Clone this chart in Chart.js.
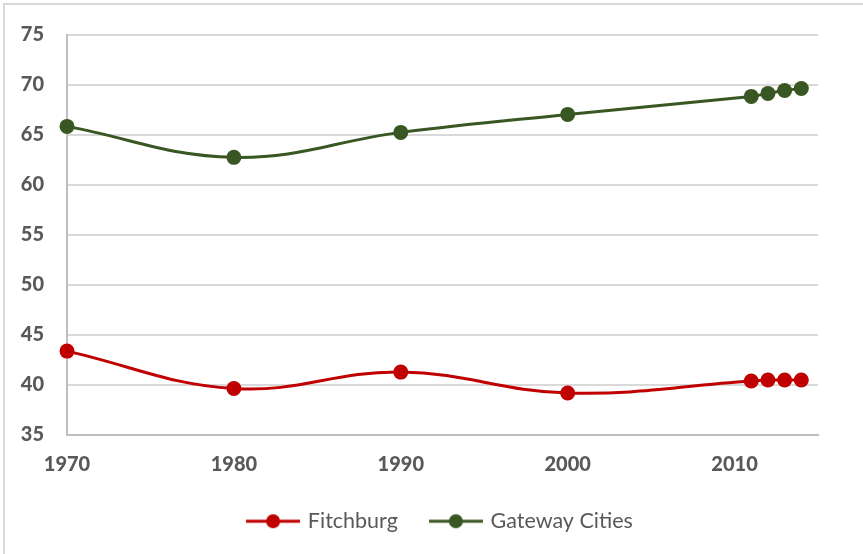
<!DOCTYPE html>
<html>
<head>
<meta charset="utf-8">
<script src="https://cdn.jsdelivr.net/npm/chart.js@4"></script>
<style>
    html, body { margin: 0; padding: 0; background: #fff; }
    #wrap { position: relative; width: 863px; height: 554px; }
    #frame {
        position: absolute; left: 3px; top: 3px; right: 0; bottom: 0;
        border-top: 2px solid #d9d9d9; border-left: 2px solid #d9d9d9;
        pointer-events: none;
    }
</style>
</head>
<body>
<div id="wrap">
    <canvas id="chart" width="863" height="554"></canvas>
    <div id="frame"></div>
</div>
<script>
// Data
const years = [1970, 1980, 1990, 2000, 2011, 2012, 2013, 2014];
const fitchburg = [43.35, 39.6, 41.25, 39.15, 40.35, 40.45, 40.45, 40.45];
const gateway = [65.85, 62.75, 65.25, 67.05, 68.85, 69.15, 69.45, 69.65];
const xTicks = [1970, 1980, 1990, 2000, 2010];

const FONT = 'Lato, "Open Sans", "Liberation Sans", sans-serif';
const TEXT = '#595959';
const RED = '#c00000';
const GREEN = '#385723';

function toPoints(values) {
    return years.map((y, i) => ({ x: y, y: values[i] }));
}

// legend marker: short line with a dot in the middle
function legendMarker(color) {
    const c = document.createElement('canvas');
    c.width = 54;
    c.height = 16;
    const g = c.getContext('2d');
    g.strokeStyle = color;
    g.lineWidth = 3;
    g.beginPath();
    g.moveTo(0, 8);
    g.lineTo(54, 8);
    g.stroke();
    g.fillStyle = color;
    g.beginPath();
    g.arc(27, 8, 7, 0, Math.PI * 2);
    g.fill();
    return c;
}

const markers = [legendMarker(RED), legendMarker(GREEN)];

// nudge the legend right so it centres on the whole chart, not the plot
const legendShift = {
    id: 'legendShift',
    afterLayout(chart) {
        chart.legend.left += 27;
        chart.legend.right += 27;
    }
};

const ctx = document.getElementById('chart').getContext('2d');
const chart = new Chart(ctx, {
    type: 'line',
    data: {
        datasets: [
            {
                label: 'Fitchburg',
                data: toPoints(fitchburg),
                borderColor: RED,
                backgroundColor: RED,
                borderWidth: 3,
                pointRadius: 7.5,
                pointBorderWidth: 0,
                tension: 0.4,
                clip: false
            },
            {
                label: 'Gateway Cities',
                data: toPoints(gateway),
                borderColor: GREEN,
                backgroundColor: GREEN,
                borderWidth: 3,
                pointRadius: 7.5,
                pointBorderWidth: 0,
                tension: 0.4,
                clip: false
            }
        ]
    },
    options: {
        responsive: false,
        animation: false,
        layout: {
            padding: { left: 10, top: 23, right: 45, bottom: 12 }
        },
        plugins: {
            tooltip: { enabled: false },
            legend: {
                display: true,
                position: 'bottom',
                labels: {
                    usePointStyle: true,
                    pointStyleWidth: 48,
                    boxHeight: 16,
                    color: TEXT,
                    font: { family: FONT, size: 21.5 },
                    padding: 34,
                    generateLabels: (chart) => chart.data.datasets.map((d, i) => ({
                        text: d.label,
                        fillStyle: d.backgroundColor,
                        strokeStyle: d.borderColor,
                        lineWidth: 0,
                        pointStyle: markers[i],
                        fontColor: TEXT,
                        datasetIndex: i
                    }))
                }
            }
        },
        scales: {
            x: {
                type: 'linear',
                min: 1970,
                max: 2015,
                afterBuildTicks: (scale) => {
                    scale.ticks = xTicks.map(v => ({ value: v }));
                },
                afterFit: (scale) => { scale.height = 42; },
                grid: { display: false, drawTicks: false },
                border: { display: true, color: '#bfbfbf', width: 2 },
                ticks: {
                    color: TEXT,
                    font: { family: FONT, size: 20, weight: 900 },
                    padding: 18,
                    maxRotation: 0,
                    callback: (v) => String(v)
                }
            },
            y: {
                min: 35,
                max: 75,
                afterFit: (scale) => { scale.width = 57; },
                grid: { color: '#d9d9d9', lineWidth: 2, drawTicks: false },
                border: { display: true, color: '#bfbfbf', width: 2 },
                ticks: {
                    stepSize: 5,
                    color: TEXT,
                    font: { family: FONT, size: 20, weight: 900 },
                    padding: 23
                }
            }
        }
    },
    plugins: [legendShift]
});
</script>
</body>
</html>
